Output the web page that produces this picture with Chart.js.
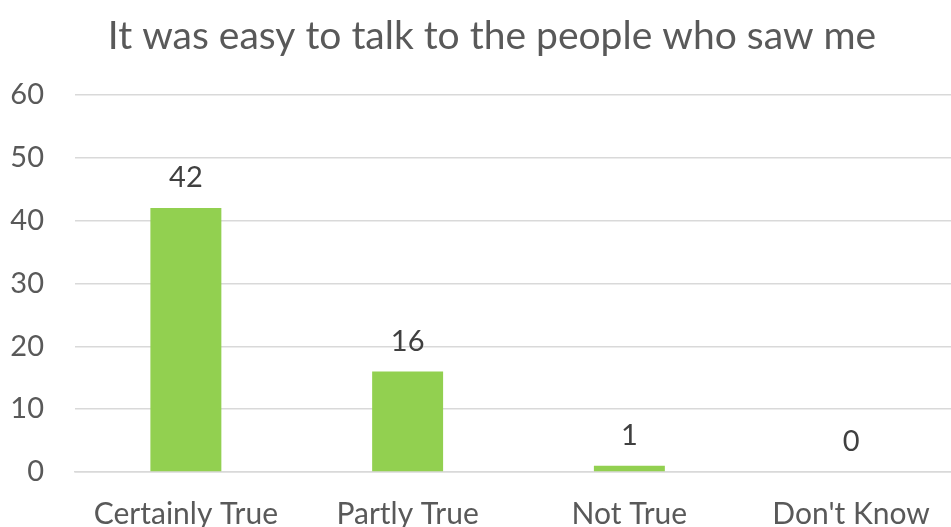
<!DOCTYPE html>
<html lang="en">
<head>
  <meta charset="UTF-8">
  <title>It was easy to talk to the people who saw me</title>
  <script src="https://cdn.jsdelivr.net/npm/chart.js"></script>
  <style>
    html, body {
      margin: 0;
      padding: 0;
      background: #ffffff;
      overflow: hidden;
    }
    /* the plot runs a little past the right edge of the window */
    .chart-box {
      position: relative;
      width: 962px;
      height: 527px;
    }
  </style>
</head>
<body>
  <div class="chart-box">
    <canvas id="answersChart"></canvas>
  </div>

  <script>
    // Respuestas
    const categories = ['Certainly True', 'Partly True', 'Not True', "Don't Know"];
    const counts = [42, 16, 1, 0];
    const yTicks = [0, 10, 20, 30, 40, 50, 60];

    const fontFamily = 'Lato, "Open Sans", sans-serif';

    // Número encima de cada barra
    const valueLabels = {
      id: 'valueLabels',
      afterDatasetsDraw(chart) {
        const ctx = chart.ctx;
        const meta = chart.getDatasetMeta(0);
        ctx.save();
        ctx.font = '29px ' + fontFamily;
        ctx.fillStyle = '#404040';
        ctx.textAlign = 'center';
        ctx.textBaseline = 'middle';
        meta.data.forEach((bar, i) => {
          ctx.fillText(String(counts[i]), bar.x, bar.y - 30);
        });
        ctx.restore();
      }
    };

    // Desplaza el título un poco a la derecha
    const titleShift = {
      id: 'titleShift',
      afterLayout(chart) {
        const t = chart.titleBlock;
        if (t) {
          t.left += 11;
          t.right += 11;
        }
      }
    };

    const ctx = document.getElementById('answersChart').getContext('2d');
    new Chart(ctx, {
      type: 'bar',
      data: {
        labels: categories,
        datasets: [{
          data: counts,
          backgroundColor: '#92d050',
          borderWidth: 0,
          categoryPercentage: 1,
          barPercentage: 0.32
        }]
      },
      options: {
        responsive: true,
        maintainAspectRatio: false,
        animation: false,
        layout: { padding: 0 },
        plugins: {
          legend: { display: false },
          tooltip: { enabled: false },
          title: {
            display: true,
            text: 'It was easy to talk to the people who saw me',
            color: '#595959',
            font: { family: fontFamily, size: 39, weight: 'normal' },
            padding: { top: 13, bottom: 35 }
          }
        },
        scales: {
          x: {
            grid: { display: false },
            border: { display: true, color: '#d9d9d9', width: 1.5 },
            ticks: {
              color: '#595959',
              font: { family: fontFamily, size: 30 },
              padding: 16,
              maxRotation: 0
            },
            afterFit(scale) { scale.height = 55; }
          },
          y: {
            min: 0,
            max: 60,
            afterBuildTicks(scale) {
              scale.ticks = yTicks.map(v => ({ value: v }));
            },
            grid: { color: '#d9d9d9', lineWidth: 1.5, drawTicks: false },
            border: { display: false },
            ticks: {
              color: '#595959',
              font: { family: fontFamily, size: 29 },
              padding: 31
            },
            afterFit(scale) { scale.width = 75; }
          }
        }
      },
      plugins: [valueLabels, titleShift]
    });
  </script>
</body>
</html>
